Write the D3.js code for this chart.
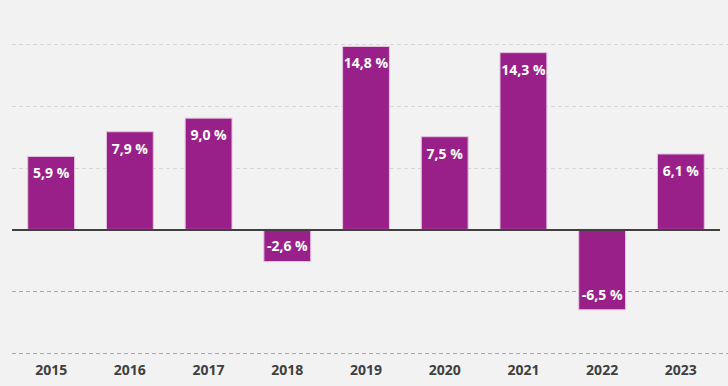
<!DOCTYPE html>
<html>
<head>
<meta charset="utf-8">
<script src="https://cdn.jsdelivr.net/npm/d3@7"></script>
<style>
  html, body { margin: 0; padding: 0; background: #f2f2f2; }
  svg { display: block; }
</style>
</head>
<body>
<div id="chart"></div>
<script>
const years = ['2015', '2016', '2017', '2018', '2019', '2020', '2021', '2022', '2023'];
const growth = [5.9, 7.9, 9.0, -2.6, 14.8, 7.5, 14.3, -6.5, 6.1];
const gridValues = [15, 10, 5, -5, -10];

const w = 728;
const h = 386;

const x = d3.scaleBand()
    .domain(years)
    .range([12, 720])
    .paddingInner(0.405)
    .paddingOuter(0.2);

const y = d3.scaleLinear()
    .domain([-10, 15])
    .range([353, 44]);

const svg = d3.select('#chart')
    .append('svg')
    .attr('width', w)
    .attr('height', h);

svg.append('rect')
    .attr('width', w)
    .attr('height', h)
    .attr('fill', '#f2f2f2');

// gridlines: lighter above zero, darker below
svg.selectAll('line.grid')
    .data(gridValues)
    .enter()
    .append('line')
    .attr('class', 'grid')
    .attr('x1', 12)
    .attr('x2', w)
    .attr('y1', d => Math.round(y(d)) + 0.5)
    .attr('y2', d => Math.round(y(d)) + 0.5)
    .attr('stroke', d => d > 0 ? '#d6d6d6' : '#a8a8a8')
    .attr('stroke-width', 1)
    .attr('stroke-dasharray', '4,3');

svg.selectAll('rect.bar')
    .data(growth)
    .enter()
    .append('rect')
    .attr('class', 'bar')
    .attr('x', (d, i) => x(years[i]))
    .attr('width', x.bandwidth())
    .attr('y', d => y(Math.max(0, d)))
    .attr('height', d => Math.abs(y(d) - y(0)))
    .attr('fill', '#9a2089')
    .attr('stroke', '#e3c3de')
    .attr('stroke-width', 1);

// zero line
svg.append('line')
    .attr('x1', 12)
    .attr('x2', 720)
    .attr('y1', y(0) + 0.5)
    .attr('y2', y(0) + 0.5)
    .attr('stroke', '#404040')
    .attr('stroke-width', 2);

svg.selectAll('text.value')
    .data(growth)
    .enter()
    .append('text')
    .attr('class', 'value')
    .attr('x', (d, i) => x(years[i]) + x.bandwidth() / 2)
    .attr('y', d => d >= 0 ? y(d) + 17 : y(d) - 15)
    .attr('dy', '.35em')
    .attr('text-anchor', 'middle')
    .attr('font-family', 'Open Sans')
    .attr('font-weight', 'bold')
    .attr('font-size', 14)
    .attr('fill', '#ffffff')
    .text(d => d.toFixed(1).replace('.', ',') + ' %');

const xAxis = svg.append('g')
    .attr('transform', 'translate(0,' + 370 + ')')
    .call(d3.axisBottom(x).tickSize(0).tickPadding(0));
xAxis.select('.domain').remove();
xAxis.selectAll('text')
    .attr('dy', '.35em')
    .attr('font-family', 'Open Sans')
    .attr('font-weight', 'bold')
    .attr('font-size', 14)
    .attr('fill', '#404040');
</script>
</body>
</html>
